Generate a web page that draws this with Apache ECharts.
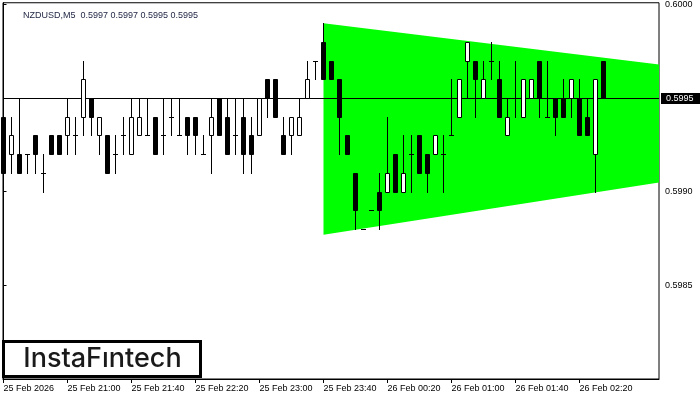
<!DOCTYPE html>
<html><head><meta charset="utf-8">
<script src="https://cdn.jsdelivr.net/npm/echarts@6/dist/echarts.min.js"></script>
<style>html,body{margin:0;padding:0;background:#fff}#c{width:700px;height:400px}</style>
</head><body><div id="c"></div>
<script>
// ---- data ----
const chartTitle = 'NZDUSD,M5  0.5997 0.5997 0.5995 0.5995';
const opens  = [0.5994,0.5992,0.5992,0.5992,0.5993,0.5991,0.5993,0.5993,0.5993,0.5993,
                0.5994,0.5995,0.5993,0.5993,0.5992,0.5993,0.5992,0.5993,0.5993,0.5994,
                0.5993,0.5994,0.5993,0.5994,0.5994,0.5992,0.5993,0.5995,0.5994,0.5993,
                0.5994,0.5993,0.5993,0.5996,0.5996,0.5993,0.5993,0.5993,0.5995,0.5997,
                0.5998,0.5997,0.5996,0.5993,0.5991,0.5988,0.5989,0.5990,0.5990,0.5992,
                0.5990,0.5992,0.5993,0.5992,0.5992,0.5992,0.5993,0.5994,0.5997,0.5997,
                0.5995,0.5997,0.5996,0.5993,0.5995,0.5994,0.5995,0.5997,0.5994,0.5995,
                0.5995,0.5995,0.5995,0.5994,0.5992,0.5997];
const highs  = [0.5994,0.5994,0.5995,0.5992,0.5993,0.5992,0.5993,0.5993,0.5995,0.5994,
                0.5997,0.5995,0.5994,0.5993,0.5993,0.5994,0.5995,0.5995,0.5995,0.5994,
                0.5995,0.5995,0.5995,0.5994,0.5994,0.5993,0.5995,0.5995,0.5995,0.5995,
                0.5995,0.5994,0.5995,0.5996,0.5996,0.5994,0.5994,0.5995,0.5997,0.5997,
                0.5999,0.5997,0.5996,0.5993,0.5991,0.5988,0.5989,0.5991,0.5994,0.5992,
                0.5993,0.5993,0.5993,0.5992,0.5993,0.5993,0.5996,0.5996,0.5998,0.5997,
                0.5997,0.5998,0.5997,0.5995,0.5997,0.5996,0.5996,0.5997,0.5997,0.5995,
                0.5996,0.5996,0.5996,0.5995,0.5996,0.5997];
const lows   = [0.5991,0.5991,0.5991,0.5991,0.5991,0.5990,0.5992,0.5992,0.5992,0.5992,
                0.5993,0.5993,0.5992,0.5991,0.5991,0.5992,0.5992,0.5993,0.5993,0.5992,
                0.5992,0.5993,0.5993,0.5992,0.5992,0.5992,0.5991,0.5993,0.5992,0.5992,
                0.5991,0.5991,0.5993,0.5994,0.5994,0.5992,0.5992,0.5993,0.5995,0.5996,
                0.5996,0.5996,0.5992,0.5992,0.5988,0.5988,0.5989,0.5988,0.5990,0.5990,
                0.5990,0.5990,0.5991,0.5990,0.5992,0.5990,0.5993,0.5994,0.5995,0.5994,
                0.5995,0.5996,0.5994,0.5993,0.5994,0.5994,0.5995,0.5994,0.5994,0.5993,
                0.5994,0.5994,0.5993,0.5993,0.5990,0.5995];
const closes = [0.5991,0.5993,0.5991,0.5992,0.5992,0.5991,0.5992,0.5992,0.5994,0.5993,
                0.5996,0.5994,0.5994,0.5991,0.5992,0.5993,0.5994,0.5994,0.5993,0.5992,
                0.5993,0.5994,0.5993,0.5993,0.5993,0.5992,0.5994,0.5993,0.5992,0.5993,
                0.5992,0.5992,0.5995,0.5995,0.5994,0.5992,0.5994,0.5994,0.5996,0.5997,
                0.5996,0.5996,0.5994,0.5992,0.5989,0.5988,0.5989,0.5989,0.5991,0.5990,
                0.5991,0.5992,0.5991,0.5991,0.5993,0.5992,0.5993,0.5996,0.5998,0.5996,
                0.5996,0.5997,0.5994,0.5994,0.5995,0.5996,0.5996,0.5995,0.5994,0.5994,
                0.5994,0.5996,0.5993,0.5993,0.5996,0.5995];
const xLabels = ['25 Feb 2026','25 Feb 21:00','25 Feb 21:40','25 Feb 22:20','25 Feb 23:00',
                 '25 Feb 23:40','26 Feb 00:20','26 Feb 01:00','26 Feb 01:40','26 Feb 02:20'];
const barsPerLabel = 8;
const yTicks = [0.5985, 0.5990, 0.5995, 0.6000];
const bidPrice = 0.5995;
const triangleTop = [[40, 0.5999], [81.94, 0.59968]];
const triangleBottom = [[40, 0.59877], [81.94, 0.59905]];

// ---- build ----
const FONT = 'Liberation Sans';
const candleData = opens.map((o, i) => [i, o, highs[i], lows[i], closes[i]]);
const xTickVals = xLabels.map((_, i) => i * barsPerLabel);

function rowOf(api, x, p) { return Math.floor(api.coord([x, p])[1] + 0.4); }

const chart = echarts.init(document.getElementById('c'), null, {renderer: 'canvas'});
chart.setOption({
  animation: false,
  backgroundColor: '#fff',
  title: {
    text: chartTitle, left: 18, top: 5,
    textStyle: {fontFamily: FONT, fontSize: 9, fontWeight: 'normal', color: '#1c2340', lineHeight: 11}
  },
  grid: {left: 3, top: 2, width: 656, height: 377, show: true, borderColor: '#000', borderWidth: 1, backgroundColor: '#fff'},
  xAxis: {
    type: 'value', min: -0.0625, max: 81.9375,
    axisLine: {show: true, lineStyle: {color: '#000', width: 1}},
    axisTick: {show: true, customValues: xTickVals, length: 4, lineStyle: {color: '#000'}},
    axisLabel: {
      customValues: xTickVals,
      formatter: v => xLabels[Math.round(v / barsPerLabel)] || '',
      align: 'left', color: '#000', fontFamily: FONT, fontSize: 9, margin: 5
    },
    splitLine: {show: false}
  },
  yAxis: {
    type: 'value', position: 'right', min: 0.598, max: 0.6000093,
    axisLine: {show: true, lineStyle: {color: '#000', width: 1}},
    axisTick: {show: true, customValues: yTicks, length: 3, lineStyle: {color: '#000'}},
    axisLabel: {customValues: yTicks, formatter: v => v.toFixed(4), color: '#000', fontFamily: FONT, fontSize: 9, margin: 6},
    splitLine: {show: false}
  },
  graphic: [
    {type: 'rect', z: 100, shape: {x: 3.5, y: 341.5, width: 197, height: 35},
     style: {fill: '#fff', stroke: '#000', lineWidth: 3}},
    {type: 'text', z: 101, x: 102.5, y: 358.5,
     style: {text: 'InstaF\u0131ntech', font: '500 27px Inter', fill: '#1a1a1a', align: 'center', verticalAlign: 'middle'}}
  ],
  series: [
    {
      type: 'custom', name: 'triangle', z: 1, clip: true,
      data: [[0]],
      renderItem: (params, api) => {
        const pts = [triangleTop[0], triangleTop[1], triangleBottom[1], triangleBottom[0]]
          .map(p => api.coord(p));
        return {type: 'polygon', shape: {points: pts}, style: {fill: '#00ff00'}};
      }
    },
    {
      type: 'custom', name: 'bid', z: 2, clip: false,
      data: [[0, bidPrice]],
      renderItem: (params, api) => {
        const cs = params.coordSys;
        const r = rowOf(api, 0, api.value(1));
        const right = cs.x + cs.width;
        return {type: 'group', children: [
          {type: 'line', shape: {x1: cs.x, y1: r + 0.5, x2: right, y2: r + 0.5}, style: {stroke: '#000', lineWidth: 1}},
          {type: 'rect', shape: {x: right + 2, y: r - 5, width: 39, height: 11}, style: {fill: '#000'}},
          {type: 'text', x: right + 7, y: r + 0.5, style: {text: api.value(1).toFixed(4), fill: '#fff', font: '9px ' + FONT, verticalAlign: 'middle', align: 'left'}}
        ]};
      }
    },
    {
      type: 'custom', name: 'candles', z: 3, clip: false,
      data: candleData,
      renderItem: (params, api) => {
        const k = api.value(0), o = api.value(1), h = api.value(2), l = api.value(3), c = api.value(4);
        const cx = Math.round(api.coord([k, o])[0] - 0.5) + 0.5;
        const rH = rowOf(api, k, h), rL = rowOf(api, k, l);
        const rO = rowOf(api, k, o), rC = rowOf(api, k, c);
        const children = [];
        if (rL > rH) children.push({type: 'line', shape: {x1: cx, y1: rH, x2: cx, y2: rL + 1}, style: {stroke: '#000', lineWidth: 1}});
        if (rO === rC) {
          children.push({type: 'line', shape: {x1: cx - 2.5, y1: rO + 0.5, x2: cx + 2.5, y2: rO + 0.5}, style: {stroke: '#000', lineWidth: 1}});
        } else {
          const top = Math.min(rO, rC), bot = Math.max(rO, rC);
          children.push({type: 'rect', shape: {x: cx - 2, y: top + 0.5, width: 4, height: bot - top},
            style: {fill: c > o ? '#fff' : '#000', stroke: '#000', lineWidth: 1}});
        }
        return {type: 'group', children};
      }
    }
  ]
});
</script></body></html>
